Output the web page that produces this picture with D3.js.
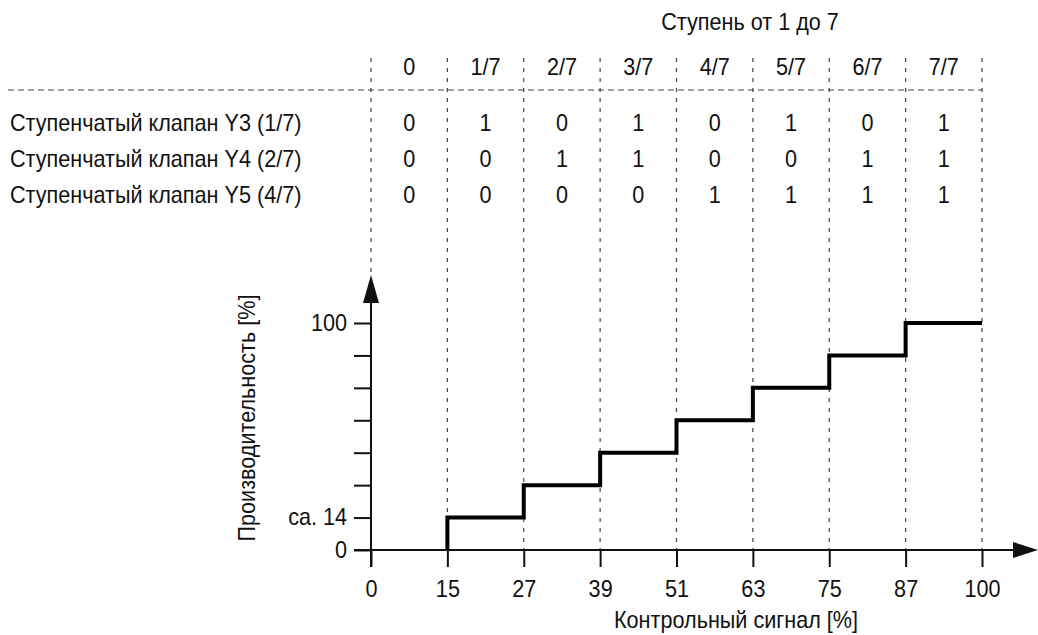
<!DOCTYPE html>
<html>
<head>
<meta charset="utf-8">
<script src="https://cdn.jsdelivr.net/npm/d3@7"></script>
<style>
  body { margin: 0; background: #fff; }
  text { font-family: "Liberation Sans", Arial, sans-serif; font-size: 23px; fill: #111; }
</style>
</head>
<body>
<div id="chart"></div>
<script>
var svgWidth = 1038;
var svgHeight = 635;
var squeeze = 0.94; // the original lettering is a little narrower than Arial

// data
var signalTicks = ["0", "15", "27", "39", "51", "63", "75", "87", "100"];
var stageLabels = ["0", "1/7", "2/7", "3/7", "4/7", "5/7", "6/7", "7/7"];
var valveNames = ["Ступенчатый клапан Y3 (1/7)", "Ступенчатый клапан Y4 (2/7)", "Ступенчатый клапан Y5 (4/7)"];
var valveY3 = [0, 1, 0, 1, 0, 1, 0, 1];
var valveY4 = [0, 0, 1, 1, 0, 0, 1, 1];
var valveY5 = [0, 0, 0, 0, 1, 1, 1, 1];
var outputTicks = [0, 14.29, 28.57, 42.86, 57.14, 71.43, 85.71, 100];
var outputTickLabels = ["0", "ca. 14", "", "", "", "", "", "100"];
// step curve: signal where each level starts, output level reached there
var stepSignal = ["15", "27", "39", "51", "63", "75", "87", "100"];
var stepOutput = [0, 14.29, 28.57, 42.86, 57.14, 71.43, 85.71, 100];

var svg = d3.select("#chart")
  .append("svg")
  .attr("width", svgWidth)
  .attr("height", svgHeight);

var xScale = d3.scalePoint()
  .domain(signalTicks)
  .range([371, 982]);

var colScale = d3.scaleBand()
  .domain(stageLabels)
  .range([371, 982]);

var yScale = d3.scaleLinear()
  .domain([0, 100])
  .range([550, 323]);

// place a text with the narrow look
function addText(x, y, str, anchor, extra) {
  return svg.append("text")
    .attr("transform", `translate(${x},${y})${extra || ""} scale(${squeeze},1)`)
    .attr("text-anchor", anchor || "start")
    .text(str);
}

// dashed grid
svg.append("line")
  .attr("x1", 8).attr("x2", xScale("100"))
  .attr("y1", 90).attr("y2", 90)
  .attr("stroke", "#444").attr("stroke-width", 1.2)
  .attr("stroke-dasharray", "6,4");

svg.selectAll(".vgrid")
  .data(signalTicks)
  .enter()
  .append("line")
  .attr("class", "vgrid")
  .attr("x1", d => xScale(d)).attr("x2", d => xScale(d))
  .attr("y1", 58)
  .attr("y2", (d, i) => i == 0 ? 275 : 550)
  .attr("stroke", "#444").attr("stroke-width", 1.2)
  .attr("stroke-dasharray", "4,6");

// table
addText(750, 30, "Ступень от 1 до 7", "middle");

stageLabels.forEach(function(s) {
  addText(colScale(s) + colScale.bandwidth() / 2, 75, s, "middle");
});

var rows = [valveY3, valveY4, valveY5];
var rowY = d3.scalePoint().domain(valveNames).range([131, 203]);

valveNames.forEach(function(name, r) {
  addText(10, rowY(name), name);
  rows[r].forEach(function(v, i) {
    addText(colScale(stageLabels[i]) + colScale.bandwidth() / 2, rowY(name), v, "middle");
  });
});

// axes
var xAxis = svg.append("g")
  .attr("transform", "translate(0,550)")
  .call(d3.axisBottom(xScale).tickSize(17).tickPadding(14));

var yAxis = svg.append("g")
  .attr("transform", "translate(371,0)")
  .call(d3.axisLeft(yScale).tickValues(outputTicks)
    .tickFormat((d, i) => outputTickLabels[i]).tickSize(17).tickPadding(8.5));

xAxis.select(".domain").remove();
yAxis.select(".domain").remove();
svg.selectAll(".tick line").attr("stroke", "#111").attr("stroke-width", 2);
svg.selectAll(".tick text")
  .attr("transform", `scale(${squeeze},1)`)
  .style("font-family", "\"Liberation Sans\", Arial, sans-serif")
  .style("font-size", "23px")
  .attr("fill", "#111");

// axis lines with arrows
svg.append("line")
  .attr("x1", 354).attr("x2", 1016)
  .attr("y1", 550).attr("y2", 550)
  .attr("stroke", "#111").attr("stroke-width", 2);
svg.append("path")
  .attr("d", "M1013,542L1038,550L1013,558Z")
  .attr("fill", "#111");

svg.append("line")
  .attr("x1", 371).attr("x2", 371)
  .attr("y1", 567).attr("y2", 300)
  .attr("stroke", "#111").attr("stroke-width", 2);
svg.append("path")
  .attr("d", "M363,303L371,275L379,303Z")
  .attr("fill", "#111");

// step curve
var stepLine = d3.line()
  .x((d, i) => xScale(stepSignal[i]))
  .y(d => yScale(d))
  .curve(d3.curveStepBefore);

svg.append("path")
  .datum(stepOutput)
  .attr("d", stepLine)
  .attr("fill", "none")
  .attr("stroke", "#000")
  .attr("stroke-width", 4)
  .attr("stroke-linejoin", "miter");

// axis titles
addText(736, 628, "Контрольный сигнал [%]", "middle");
addText(255, 418, "Производительность [%]", "middle", " rotate(-90)");
</script>
</body>
</html>
